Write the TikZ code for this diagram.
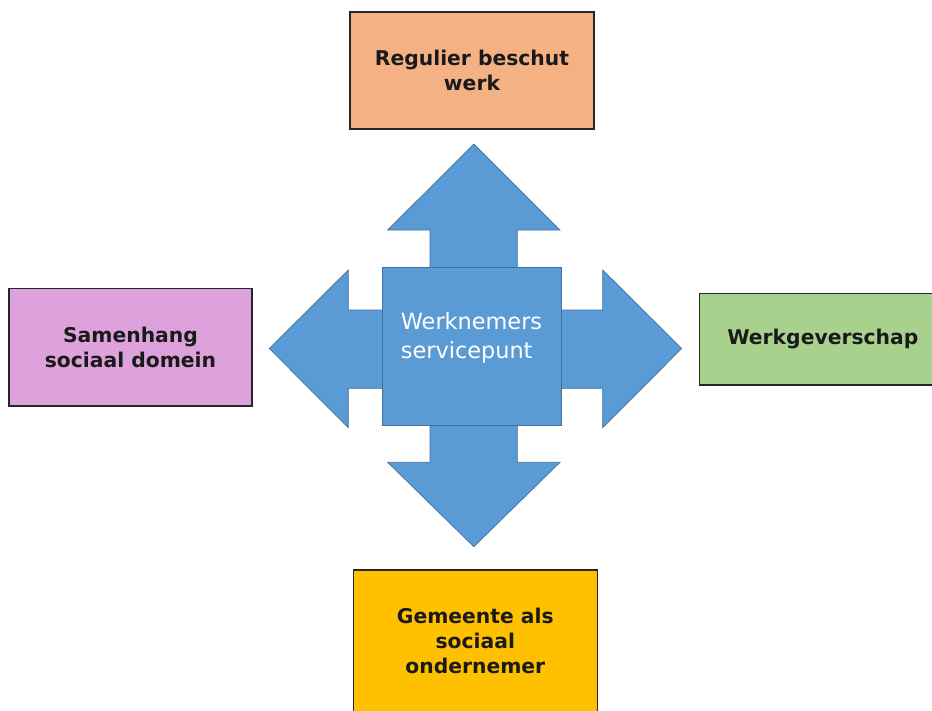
\documentclass[tikz,border=0pt]{standalone}
\usepackage{fontspec}
\setmainfont{DejaVu Sans}
\definecolor{arrowblue}{HTML}{5B9BD5}
\definecolor{arrowedge}{HTML}{41719C}
\definecolor{boxorange}{HTML}{F4B183}
\definecolor{boxplum}{HTML}{DDA2DC}
\definecolor{boxgreen}{HTML}{A9D18E}
\definecolor{boxgold}{HTML}{FFC000}
\definecolor{boxedge}{HTML}{262626}
\definecolor{txtdark}{HTML}{1A1A1A}
\tikzset{
  outerbox/.style={draw=boxedge, line width=1.2pt, text=txtdark, align=center,
    font=\bfseries\fontsize{20.3}{25}\selectfont},
  bluearrow/.style={fill=arrowblue, draw=arrowedge, line width=0.7pt, line join=miter},
}
\begin{document}
\begin{tikzpicture}[x=1pt,y=-1pt]
\useasboundingbox (0,0) rectangle (932,710);
\fill[white] (0,0) rectangle (932,710);
% arrows
\draw[bluearrow] (430,268) -- (430,230) -- (387.7,230) -- (473.8,144) -- (560,230) -- (517.3,230) -- (517.3,268);
\draw[bluearrow] (430,425) -- (430,462.3) -- (387.7,462.3) -- (473.8,546.7) -- (560,462.3) -- (517.3,462.3) -- (517.3,425);
\draw[bluearrow] (383.5,310) -- (348.3,310) -- (348.3,270) -- (269.3,348.5) -- (348.3,427.7) -- (348.3,388.3) -- (383.5,388.3);
\draw[bluearrow] (561,310) -- (602.7,310) -- (602.7,270) -- (681.7,348.5) -- (602.7,427.7) -- (602.7,388.3) -- (561,388.3);
% centre
\node[bluearrow, minimum width=179pt, minimum height=158.4pt, inner sep=0pt] (c) at (472.2,346.5) {};
\node[text=white, align=left, font=\fontsize{22.4}{28.5}\selectfont, inner sep=0pt] (ct) at (471.5,338) {Werknemers\\servicepunt};
% outer boxes
\node[outerbox, fill=boxorange, minimum width=244pt, minimum height=117pt, inner sep=0pt] (top) at (472,70.5) {Regulier beschut\\werk};
\node[outerbox, fill=boxplum, minimum width=243pt, minimum height=117.7pt, inner sep=0pt] (left) at (130.5,347.2) {Samenhang\\sociaal domein};
\node[outerbox, fill=boxgreen, minimum width=247pt, minimum height=91.7pt, inner sep=0pt] (right) at (822.8,339.2) {Werkgeverschap};
\node[outerbox, fill=boxgold, minimum width=244pt, minimum height=142pt, inner sep=0pt] (bottom) at (475.3,641) {Gemeente als\\sociaal\\ondernemer};
\end{tikzpicture}
\end{document}
